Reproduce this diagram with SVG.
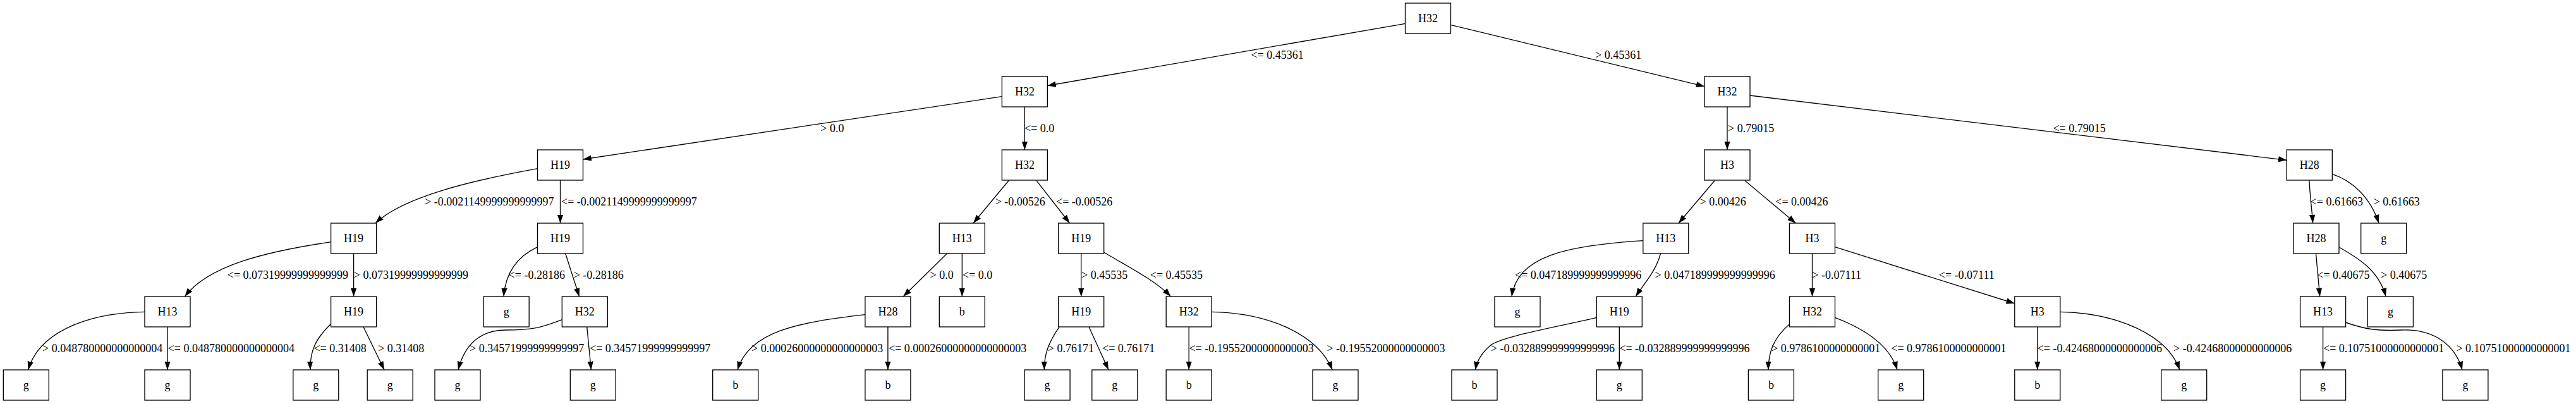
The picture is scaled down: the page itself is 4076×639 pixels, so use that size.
<svg xmlns="http://www.w3.org/2000/svg" width="4076" height="639" viewBox="0 0 4076 639">
<style>
.n rect{fill:#fff;stroke:#000;stroke-width:1.33}
.n text{font-family:"Liberation Serif","Times New Roman",serif;font-size:18px;fill:#000;text-anchor:middle}
.e path{fill:none;stroke:#000;stroke-width:1.33;marker-end:url(#arr)}
.l{font-family:"Liberation Serif","Times New Roman",serif;font-size:18px;fill:#000}
</style>
<defs>
<marker id="arr" markerUnits="userSpaceOnUse" markerWidth="14" markerHeight="10" refX="13.3" refY="4.67" orient="auto"><path d="M0,0 L13.3,4.67 L0,9.33 z" fill="#000"/></marker>
</defs>
<rect x="0" y="0" width="4076" height="639" fill="#fff"/>
<g id="edges" class="e">
<path d="M2223.5,37.3 L1657.4,135.5"/>
<path d="M2295.5,39.3 L2697,136.7"/>
<path d="M1585.4,152.7 L922.5,252"/>
<path d="M1621.4,169 L1621.4,237"/>
<path d="M2733,169 L2733,237"/>
<path d="M2769,151 L3618.3,253.3"/>
<path d="M850.5,266.7 C750,285 640,310 594,353"/>
<path d="M886.5,285 L886.5,353"/>
<path d="M1596.6,285 L1540,353"/>
<path d="M1640,285.7 L1692.6,353"/>
<path d="M2713,285.7 L2656,353"/>
<path d="M2761,285.7 L2841.4,353"/>
<path d="M3653.9,285 C3655,310 3658,330 3659.6,353"/>
<path d="M3690.3,275.3 C3720,285 3750,310 3764,353"/>
<path d="M523.6,382.7 C420,398 330,420 292.4,469"/>
<path d="M559.6,401 L559.6,469"/>
<path d="M850.5,390.7 C820,405 800,430 797,469"/>
<path d="M894.7,401 L916.6,469"/>
<path d="M1498.4,401 L1429.2,469"/>
<path d="M1522.3,401 L1522.3,469"/>
<path d="M1710.7,401 L1710.7,469"/>
<path d="M1746.7,399 C1790,425 1830,445 1852.4,469"/>
<path d="M2599.8,380.7 C2480,388 2400,405 2392,469"/>
<path d="M2627.5,401 C2620,430 2600,450 2588.2,469"/>
<path d="M2867.5,401 L2867.5,469"/>
<path d="M2903.5,390.7 L3187.8,480"/>
<path d="M3664.5,401 L3670.7,469"/>
<path d="M3701,391 C3735,410 3765,430 3775,469"/>
<path d="M229,493.3 C130,495 60,530 44.6,585"/>
<path d="M265,517 L265,585"/>
<path d="M523.6,512.3 C500,535 490,555 491,585"/>
<path d="M575,517 L608,585"/>
<path d="M889.3,505.7 C860,516 850,522 800,522 C760,522 735,545 725,585"/>
<path d="M928.7,517 L935.4,585"/>
<path d="M1368.9,497.7 C1260,510 1185,525 1167,585"/>
<path d="M1404.9,517 L1404.9,585"/>
<path d="M1676,517.3 C1660,540 1652,560 1652.4,585"/>
<path d="M1723,517 L1754,585"/>
<path d="M1881.2,517 L1881.2,585"/>
<path d="M1917.2,493.3 C2010,495 2085,530 2108.3,585"/>
<path d="M2526.3,502.3 C2450,520 2380,532 2360,545 C2345,557 2337,570 2334.6,585"/>
<path d="M2562.3,517 L2562.3,585"/>
<path d="M2831.5,512.7 C2805,535 2798,560 2798,585"/>
<path d="M2903.5,502.3 C2950,520 2990,545 3002,585"/>
<path d="M3223.8,517 L3223.8,585"/>
<path d="M3259.8,493.3 C3350,495 3430,530 3448.8,585"/>
<path d="M3675.6,517 L3675.6,585"/>
<path d="M3711.6,510 C3740,520 3760,524 3800,522 C3850,520 3885,545 3896,585"/>
</g>
<g id="edge-labels">
<text class="l" x="1979.5" y="93">&lt;= 0.45361</text>
<text class="l" x="2524" y="93">&gt; 0.45361</text>
<text class="l" x="1298.3" y="209">&gt; 0.0</text>
<text class="l" x="1621" y="209">&lt;= 0.0</text>
<text class="l" x="2734" y="209">&gt; 0.79015</text>
<text class="l" x="3248.4" y="209">&lt;= 0.79015</text>
<text class="l" x="672" y="325">&gt; -0.0021149999999999997</text>
<text class="l" x="888" y="325">&lt;= -0.0021149999999999997</text>
<text class="l" x="1574.7" y="325">&gt; -0.00526</text>
<text class="l" x="1671" y="325">&lt;= -0.00526</text>
<text class="l" x="2689.6" y="325">&gt; 0.00426</text>
<text class="l" x="2809.3" y="325">&lt;= 0.00426</text>
<text class="l" x="3655.6" y="325">&lt;= 0.61663</text>
<text class="l" x="3755.5" y="325">&gt; 0.61663</text>
<text class="l" x="359.8" y="441">&lt;= 0.07319999999999999</text>
<text class="l" x="559.8" y="441">&gt; 0.07319999999999999</text>
<text class="l" x="804.6" y="441">&lt;= -0.28186</text>
<text class="l" x="907.7" y="441">&gt; -0.28186</text>
<text class="l" x="1471.6" y="441">&gt; 0.0</text>
<text class="l" x="1523" y="441">&lt;= 0.0</text>
<text class="l" x="1711" y="441">&gt; 0.45535</text>
<text class="l" x="1819.8" y="441">&lt;= 0.45535</text>
<text class="l" x="2397" y="441">&lt;= 0.047189999999999996</text>
<text class="l" x="2618.6" y="441">&gt; 0.047189999999999996</text>
<text class="l" x="2867.3" y="441">&gt; -0.07111</text>
<text class="l" x="3067.8" y="441">&lt;= -0.07111</text>
<text class="l" x="3666.3" y="441">&lt;= 0.40675</text>
<text class="l" x="3767" y="441">&gt; 0.40675</text>
<text class="l" x="67" y="557">&gt; 0.048780000000000004</text>
<text class="l" x="265.6" y="557">&lt;= 0.048780000000000004</text>
<text class="l" x="496.4" y="557">&lt;= 0.31408</text>
<text class="l" x="598.2" y="557">&gt; 0.31408</text>
<text class="l" x="743" y="557">&gt; 0.34571999999999997</text>
<text class="l" x="933" y="557">&lt;= 0.34571999999999997</text>
<text class="l" x="1189" y="557">&gt; 0.00026000000000000003</text>
<text class="l" x="1406" y="557">&lt;= 0.00026000000000000003</text>
<text class="l" x="1657.8" y="557">&gt; 0.76171</text>
<text class="l" x="1744" y="557">&lt;= 0.76171</text>
<text class="l" x="1881.4" y="557">&lt;= -0.19552000000000003</text>
<text class="l" x="2099.4" y="557">&gt; -0.19552000000000003</text>
<text class="l" x="2358.8" y="557">&gt; -0.032889999999999996</text>
<text class="l" x="2562.3" y="557">&lt;= -0.032889999999999996</text>
<text class="l" x="2803" y="557">&gt; 0.9786100000000001</text>
<text class="l" x="2992.3" y="557">&lt;= 0.9786100000000001</text>
<text class="l" x="3223.6" y="557">&lt;= -0.42468000000000006</text>
<text class="l" x="3439" y="557">&gt; -0.42468000000000006</text>
<text class="l" x="3676" y="557">&lt;= 0.10751000000000001</text>
<text class="l" x="3886.4" y="557">&gt; 0.10751000000000001</text>
</g>
<g id="n0" class="n"><rect x="2223.5" y="5" width="72" height="48"/><text x="2259.5" y="35">H32</text></g>
<g id="n1" class="n"><rect x="1585.4" y="121" width="72" height="48"/><text x="1621.4" y="151">H32</text></g>
<g id="n2" class="n"><rect x="2697" y="121" width="72" height="48"/><text x="2733" y="151">H32</text></g>
<g id="n3" class="n"><rect x="850.5" y="237" width="72" height="48"/><text x="886.5" y="267">H19</text></g>
<g id="n4" class="n"><rect x="1585.4" y="237" width="72" height="48"/><text x="1621.4" y="267">H32</text></g>
<g id="n5" class="n"><rect x="2697" y="237" width="72" height="48"/><text x="2733" y="267">H3</text></g>
<g id="n6" class="n"><rect x="3618.3" y="237" width="72" height="48"/><text x="3654.3" y="267">H28</text></g>
<g id="n7" class="n"><rect x="523.6" y="353" width="72" height="48"/><text x="559.6" y="383">H19</text></g>
<g id="n8" class="n"><rect x="850.5" y="353" width="72" height="48"/><text x="886.5" y="383">H19</text></g>
<g id="n9" class="n"><rect x="1486.3" y="353" width="72" height="48"/><text x="1522.3" y="383">H13</text></g>
<g id="n10" class="n"><rect x="1674.7" y="353" width="72" height="48"/><text x="1710.7" y="383">H19</text></g>
<g id="n11" class="n"><rect x="2599.8" y="353" width="72" height="48"/><text x="2635.8" y="383">H13</text></g>
<g id="n12" class="n"><rect x="2831.5" y="353" width="72" height="48"/><text x="2867.5" y="383">H3</text></g>
<g id="n13" class="n"><rect x="3629" y="353" width="72" height="48"/><text x="3665" y="383">H28</text></g>
<g id="n14" class="n"><rect x="3735.7" y="353" width="72" height="48"/><text x="3771.7" y="383">g</text></g>
<g id="n15" class="n"><rect x="229" y="469" width="72" height="48"/><text x="265" y="499">H13</text></g>
<g id="n16" class="n"><rect x="523.6" y="469" width="72" height="48"/><text x="559.6" y="499">H19</text></g>
<g id="n17" class="n"><rect x="765.2" y="469" width="72" height="48"/><text x="801.2" y="499">g</text></g>
<g id="n18" class="n"><rect x="889.3" y="469" width="72" height="48"/><text x="925.3" y="499">H32</text></g>
<g id="n19" class="n"><rect x="1368.9" y="469" width="72" height="48"/><text x="1404.9" y="499">H28</text></g>
<g id="n20" class="n"><rect x="1486.3" y="469" width="72" height="48"/><text x="1522.3" y="499">b</text></g>
<g id="n21" class="n"><rect x="1674.7" y="469" width="72" height="48"/><text x="1710.7" y="499">H19</text></g>
<g id="n22" class="n"><rect x="1845.2" y="469" width="72" height="48"/><text x="1881.2" y="499">H32</text></g>
<g id="n23" class="n"><rect x="2365" y="469" width="72" height="48"/><text x="2401" y="499">g</text></g>
<g id="n24" class="n"><rect x="2526.3" y="469" width="72" height="48"/><text x="2562.3" y="499">H19</text></g>
<g id="n25" class="n"><rect x="2831.5" y="469" width="72" height="48"/><text x="2867.5" y="499">H32</text></g>
<g id="n26" class="n"><rect x="3187.8" y="469" width="72" height="48"/><text x="3223.8" y="499">H3</text></g>
<g id="n27" class="n"><rect x="3639.6" y="469" width="72" height="48"/><text x="3675.6" y="499">H13</text></g>
<g id="n28" class="n"><rect x="3746.4" y="469" width="72" height="48"/><text x="3782.4" y="499">g</text></g>
<g id="n29" class="n"><rect x="5.3" y="585" width="72" height="48"/><text x="41.3" y="615">g</text></g>
<g id="n30" class="n"><rect x="229" y="585" width="72" height="48"/><text x="265" y="615">g</text></g>
<g id="n31" class="n"><rect x="463.8" y="585" width="72" height="48"/><text x="499.8" y="615">g</text></g>
<g id="n32" class="n"><rect x="581.2" y="585" width="72" height="48"/><text x="617.2" y="615">g</text></g>
<g id="n33" class="n"><rect x="688" y="585" width="72" height="48"/><text x="724" y="615">g</text></g>
<g id="n34" class="n"><rect x="902.3" y="585" width="72" height="48"/><text x="938.3" y="615">g</text></g>
<g id="n35" class="n"><rect x="1127.7" y="585" width="72" height="48"/><text x="1163.7" y="615">b</text></g>
<g id="n36" class="n"><rect x="1368.9" y="585" width="72" height="48"/><text x="1404.9" y="615">b</text></g>
<g id="n37" class="n"><rect x="1621.1" y="585" width="72" height="48"/><text x="1657.1" y="615">g</text></g>
<g id="n38" class="n"><rect x="1727.8" y="585" width="72" height="48"/><text x="1763.8" y="615">g</text></g>
<g id="n39" class="n"><rect x="1845.2" y="585" width="72" height="48"/><text x="1881.2" y="615">b</text></g>
<g id="n40" class="n"><rect x="2077" y="585" width="72" height="48"/><text x="2113" y="615">g</text></g>
<g id="n41" class="n"><rect x="2297" y="585" width="72" height="48"/><text x="2333" y="615">b</text></g>
<g id="n42" class="n"><rect x="2526.3" y="585" width="72" height="48"/><text x="2562.3" y="615">g</text></g>
<g id="n43" class="n"><rect x="2766.4" y="585" width="72" height="48"/><text x="2802.4" y="615">b</text></g>
<g id="n44" class="n"><rect x="2971.7" y="585" width="72" height="48"/><text x="3007.7" y="615">g</text></g>
<g id="n45" class="n"><rect x="3187.8" y="585" width="72" height="48"/><text x="3223.8" y="615">b</text></g>
<g id="n46" class="n"><rect x="3419.7" y="585" width="72" height="48"/><text x="3455.7" y="615">g</text></g>
<g id="n47" class="n"><rect x="3639.6" y="585" width="72" height="48"/><text x="3675.6" y="615">g</text></g>
<g id="n48" class="n"><rect x="3864.9" y="585" width="72" height="48"/><text x="3900.9" y="615">g</text></g>
</svg>
